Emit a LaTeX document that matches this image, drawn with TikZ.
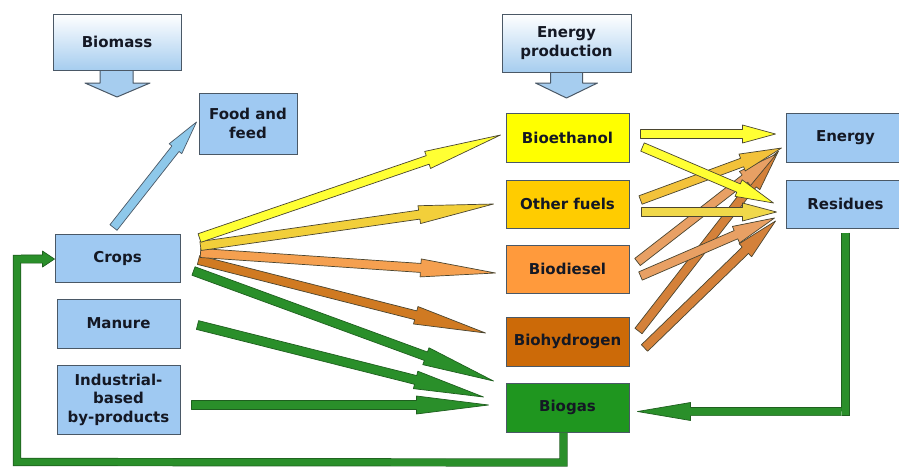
\documentclass[tikz,border=0pt]{standalone}
\usepackage{fontspec}
\setmainfont{DejaVu Sans}
\usetikzlibrary{calc}
\definecolor{boxblue}{HTML}{9FC9F2}
\definecolor{headblue}{HTML}{A6CDEF}
\definecolor{boxedge}{HTML}{4A5866}
\definecolor{txt}{HTML}{141824}
\definecolor{cyellow}{HTML}{FFFF00}
\definecolor{cgold}{HTML}{FFCC00}
\definecolor{corange}{HTML}{FF9A3C}
\definecolor{cdorange}{HTML}{CC6A08}
\definecolor{cgreen}{HTML}{1F961F}
\definecolor{ayellow}{HTML}{FFFF33}
\definecolor{agold}{HTML}{F2CF3A}
\definecolor{agold2}{HTML}{F3C23A}
\definecolor{agold3}{HTML}{F0D84A}
\definecolor{aorange}{HTML}{F5A050}
\definecolor{atan}{HTML}{E8A064}
\definecolor{adorange}{HTML}{D07A22}
\definecolor{adorange2}{HTML}{D4813A}
\definecolor{agreen}{HTML}{2A8F2A}
\definecolor{gedge}{HTML}{1F5F1F}
\definecolor{ablue}{HTML}{8EC8EA}
\definecolor{aedge}{HTML}{4A4530}
\tikzset{
  arrowline/.style={line width=0.7pt, line join=round},
  boxbase/.style={draw=boxedge, line width=1pt, inner sep=0pt, align=center,
    font=\fontsize{15}{18.5}\selectfont\bfseries, text=txt},
  bluebox/.style={boxbase, fill=boxblue},
  headbox/.style={boxbase, top color=white, bottom color=headblue},
  fuelbox/.style={boxbase, minimum width=123pt, minimum height=49pt},
  loopline/.style={line width=6.8pt, draw=agreen, line join=miter,
    preaction={draw=gedge, line width=8.2pt}},
}
% #1 fill, #2 edge, #3 from, #4 to, #5 head length, #6 head half width
\newcommand\blarrow[6]{%
  \coordinate (hb) at ($(#4)!#5!(#3)$);
  \filldraw[fill=#1, draw=#2, arrowline]
    ($(#3)!4.5pt!90:(#4)$) -- ($(hb)!4.5pt!90:(#4)$) -- ($(hb)!#6!90:(#4)$)
    -- (#4) -- ($(hb)!#6!-90:(#4)$) -- ($(hb)!4.5pt!-90:(#4)$)
    -- ($(#3)!4.5pt!-90:(#4)$) -- cycle;}
\newcommand\blarrowopen[6]{%
  \coordinate (hb) at ($(#4)!#5!(#3)$);
  \coordinate (pa1) at ($(#3)!4.1pt!90:(#4)$);
  \coordinate (pb1) at ($(hb)!4.1pt!90:(#4)$);
  \coordinate (pc1) at ($(hb)!#6!90:(#4)$);
  \coordinate (pc2) at ($(hb)!#6!-90:(#4)$);
  \coordinate (pb2) at ($(hb)!4.1pt!-90:(#4)$);
  \coordinate (pa2) at ($(#3)!4.1pt!-90:(#4)$);
  \fill[#1] (pa1) -- (pb1) -- (pc1) -- (#4) -- (pc2) -- (pb2) -- (pa2) -- cycle;
  \draw[#2, arrowline] (pa1) -- (pb1) -- (pc1) -- (#4) -- (pc2) -- (pb2) -- (pa2);}
\begin{document}
\begin{tikzpicture}[x=1pt, y=-1pt]
\useasboundingbox (0,0) rectangle (899,466);
\fill[white] (0,0) rectangle (899,466);

% header boxes with down arrows
\coordinate (bma) at (117,70);
\filldraw[fill=headblue, draw=boxedge, line width=1pt, line join=round]
  ($(bma)+(-17,0)$) -- ($(bma)+(-17,13)$) -- ($(bma)+(-32,13)$) -- ($(bma)+(0,27)$)
  -- ($(bma)+(33,13)$) -- ($(bma)+(16,13)$) -- ($(bma)+(16,0)$);
\node[headbox, minimum width=128pt, minimum height=56pt] (biomass) at (117,42) {Biomass};

\coordinate (epa) at (566.5,72);
\filldraw[fill=headblue, draw=boxedge, line width=1pt, line join=round]
  ($(epa)+(-16,0)$) -- ($(epa)+(-16,11)$) -- ($(epa)+(-31,11)$) -- ($(epa)+(0,26)$)
  -- ($(epa)+(31,11)$) -- ($(epa)+(16,11)$) -- ($(epa)+(16,0)$);
\node[headbox, minimum width=129pt, minimum height=58pt] (energyprod) at (566.5,43) {Energy\\production};

% left boxes
\node[bluebox, minimum width=98pt, minimum height=61pt] (food) at (248,123.5) {Food and\\feed};
\node[bluebox, minimum width=125pt, minimum height=48pt] (crops) at (117.5,258) {Crops};
\node[bluebox, minimum width=123pt, minimum height=49pt] (manure) at (118.5,323.5) {Manure};
\node[bluebox, minimum width=123pt, minimum height=69pt] (industrial) at (118.5,399.5) {Industrial-\\based\\by-products};

% fuel boxes
\node[fuelbox, fill=cyellow] (bioeth) at (567.5,137.5) {Bioethanol};
\node[fuelbox, fill=cgold, minimum height=48pt] (otherfuels) at (567.5,204) {Other fuels};
\node[fuelbox, fill=corange, minimum height=48pt] (biodiesel) at (567.5,269) {Biodiesel};
\node[fuelbox, fill=cdorange] (biohydrogen) at (567.5,341.5) {Biohydrogen};
\node[fuelbox, fill=cgreen] (biogas) at (567.5,407.5) {Biogas};

% right boxes
\node[bluebox, minimum width=119pt, minimum height=49pt] (energy) at (845.5,137.5) {Energy};
\node[bluebox, minimum width=119pt, minimum height=48pt] (residues) at (845.5,204) {Residues};

% coordinates
\coordinate (sf) at ($(crops.north)+(-4,-6)$);
\coordinate (ef) at ($(food.west)+(-2,-1.5)$);
\coordinate (s1) at ($(crops.east)+(19,-20)$);
\coordinate (s2) at ($(crops.east)+(20,-12)$);
\coordinate (s3) at ($(crops.east)+(20,-5)$);
\coordinate (s4) at ($(crops.east)+(18,2)$);
\coordinate (s5) at ($(crops.east)+(13,13)$);
\coordinate (s6) at ($(manure.east)+(17,1.5)$);
\coordinate (s7) at ($(industrial.east)+(11,5.5)$);
\coordinate (e1) at ($(bioeth.west)+(-5,-2.5)$);
\coordinate (e2) at ($(otherfuels.west)+(-12,0)$);
\coordinate (e3) at ($(biodiesel.west)+(-10,4)$);
\coordinate (e4) at ($(biohydrogen.west)+(-20,-8.5)$);
\coordinate (e5) at ($(biogas.west)+(-12,-26.5)$);
\coordinate (e6) at ($(biogas.west)+(-22,-10.5)$);
\coordinate (e7) at ($(biogas.west)+(-17,-2.5)$);

\coordinate (s8) at ($(bioeth.east)+(11,-3.5)$);
\coordinate (s9) at ($(bioeth.east)+(13,9.5)$);
\coordinate (s10) at ($(otherfuels.east)+(11,-4)$);
\coordinate (s11) at ($(otherfuels.east)+(12,8)$);
\coordinate (s12) at ($(biodiesel.east)+(8,-7)$);
\coordinate (s13) at ($(biodiesel.east)+(11,7)$);
\coordinate (s14) at ($(biohydrogen.east)+(9,-10.5)$);
\coordinate (s15) at ($(biohydrogen.east)+(15,6.5)$);
\coordinate (e8) at ($(energy.west)+(-10,-3.5)$);
\coordinate (e10) at ($(energy.west)+(-4,10.5)$);
\coordinate (e12) at ($(energy.west)+(-9,16.5)$);
\coordinate (e14) at ($(energy.west)+(-7,13.5)$);
\coordinate (e9) at ($(residues.west)+(-12,-1)$);
\coordinate (e11) at ($(residues.west)+(-9,8)$);
\coordinate (e13) at ($(residues.west)+(-11,14)$);
\coordinate (e15) at ($(residues.west)+(-10,17)$);

% food arrow
\blarrow{ablue}{boxedge}{sf}{ef}{34pt}{8pt}

% crops fan
\blarrow{agreen}{gedge}{s5}{e5}{72pt}{9pt}
\blarrow{adorange}{aedge}{s4}{e4}{72pt}{9pt}
\blarrow{aorange}{aedge}{s3}{e3}{75pt}{9pt}
\blarrow{agold}{aedge}{s2}{e2}{75pt}{9pt}
\blarrow{ayellow}{aedge}{s1}{e1}{77pt}{9pt}
\blarrow{agreen}{gedge}{s6}{e6}{70pt}{9pt}
\blarrow{agreen}{gedge}{s7}{e7}{72pt}{9pt}

% right side
\blarrow{adorange2}{aedge}{s14}{e14}{42pt}{9pt}
\blarrow{atan}{aedge}{s12}{e12}{40pt}{9pt}
\blarrow{adorange2}{aedge}{s15}{e15}{42pt}{9pt}
\blarrow{atan}{aedge}{s13}{e13}{42pt}{9pt}
\blarrow{agold2}{aedge}{s10}{e10}{42pt}{9pt}
\blarrow{agold3}{aedge}{s11}{e11}{34pt}{9pt}
\blarrow{ayellow}{aedge}{s9}{e9}{38pt}{9pt}
\blarrow{ayellow}{aedge}{s8}{e8}{33pt}{9pt}

% residues -> biogas loop
\coordinate (r1) at ($(residues.south)+(0,4)$);
\coordinate (rg) at ($(biogas.east)+(8,4)$);
\coordinate (r2) at (r1 |- rg);
\coordinate (r3) at ($(r2)+(-4,0)$);
\draw[loopline] (r1) -- (r2) -- (r3);
\blarrowopen{agreen}{gedge}{r3}{rg}{53pt}{9pt}

% biogas -> crops loop
\coordinate (g1) at ($(biogas.south)+(-4,0)$);
\coordinate (g2) at ($(g1)+(0,30)$);
\coordinate (ct) at ($(crops.west)+(0,1)$);
\coordinate (g3) at (17,462);
\coordinate (g4) at (g3 |- ct);
\coordinate (g5) at ($(g4)+(4,0)$);
\draw[loopline] (g1) -- (g2) -- (g3) -- (g4) -- (g5);
\blarrowopen{agreen}{gedge}{g5}{ct}{12pt}{8pt}
\end{tikzpicture}
\end{document}
